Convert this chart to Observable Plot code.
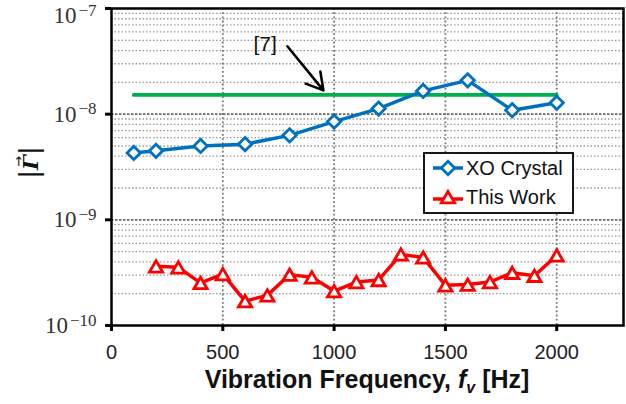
<!DOCTYPE html>
<html><head><meta charset="utf-8">
<script src="https://cdn.jsdelivr.net/npm/d3@7"></script>
<script src="https://cdn.jsdelivr.net/npm/@observablehq/plot@0.6"></script>
<style>
body{margin:0;background:#fff;}
#wrap{width:626px;height:404px;}
</style>
</head><body><div id="wrap"></div>
<script>
// ---- data ----
const xoFreq  = [100, 200, 400, 600, 800, 1000, 1200, 1400, 1600, 1800, 2000];
const xoGamma = [4.3e-9, 4.5e-9, 5.0e-9, 5.2e-9, 6.3e-9, 8.5e-9, 1.13e-8, 1.66e-8, 2.09e-8, 1.09e-8, 1.28e-8];
const twFreq  = [200, 300, 400, 500, 600, 700, 800, 900, 1000, 1100, 1200, 1300, 1400, 1500, 1600, 1700, 1800, 1900, 2000];
const twGamma = [3.63e-10, 3.55e-10, 2.53e-10, 3.07e-10, 1.70e-10, 1.93e-10, 3.03e-10, 2.86e-10, 2.12e-10, 2.58e-10,
                 2.70e-10, 4.71e-10, 4.41e-10, 2.40e-10, 2.44e-10, 2.58e-10, 3.16e-10, 2.96e-10, 4.61e-10];
const refFreq  = [100, 2000];
const refGamma = [1.52e-8, 1.52e-8];
const seriesNames = ["XO Crystal", "This Work"];
const xTicks = [0, 500, 1000, 1500, 2000];
const yExps  = [-10, -9, -8, -7];
const refLabel = "[7]";
const refLabelAt = [690, 4.6e-8];
const refArrowFrom = [790, 4.39e-8];
const refArrowTo   = [952, 1.68e-8];
const xLabelParts = ["Vibration Frequency, ", "f", "v", " [Hz]"];
const yLabelParts = ["|", "\u0393", "|", "\u2192"];

// ---- derived tables ----
const yTicks = yExps.map(e => Math.pow(10, e));
const minor = [];
for (let i = 0; i < yExps.length - 1; i++) for (let k = 2; k <= 9; k++) minor.push(k * yTicks[i]);
const xo  = xoFreq.map((f, i) => ({f, g: xoGamma[i]}));
const tw  = twFreq.map((f, i) => ({f, g: twGamma[i]}));
const ref = refFreq.map((f, i) => ({f, g: refGamma[i]}));

const BLUE = "#0070C0", RED = "#FF0000", GREEN = "#00B050";
const SANS = "'Liberation Sans', Arial, sans-serif";

const chart = Plot.plot({
  width: 626, height: 404,
  marginLeft: 111, marginRight: 3, marginTop: 8, marginBottom: 79,
  style: {fontFamily: SANS, fontSize: "20px", background: "white", overflow: "visible"},
  x: {domain: [0, 2300]},
  y: {type: "log", domain: [1e-10, 1e-7]},
  marks: [
    Plot.ruleY(minor, {stroke: "#9a9a9a", strokeWidth: 1.3, strokeDasharray: "1.5,2"}),
    Plot.ruleY(yTicks.slice(1, -1), {stroke: "#6a6a6a", strokeWidth: 1.6, strokeDasharray: "2.5,1.5"}),
    Plot.ruleX(xTicks.slice(1), {stroke: "#777", strokeWidth: 1.8, strokeDasharray: "1.8,2.4"}),
    Plot.axisX({ticks: xTicks, tickSize: 6, tickPadding: 13, strokeWidth: 3, stroke: "black", label: null,
                fill: "#222", fontSize: 20, tickFormat: d => String(d)}),
    Plot.axisY({ticks: yTicks, tickSize: 6, tickPadding: 9, strokeWidth: 3, stroke: "black", label: null,
                tickFormat: d => "10|" + Math.round(Math.log10(d))}),
    Plot.line(ref, {x: "f", y: "g", stroke: GREEN, strokeWidth: 3.8}),
    Plot.line(xo, {x: "f", y: "g", stroke: BLUE, strokeWidth: 3.5}),
    Plot.dot(xo, {x: "f", y: "g", symbol: "diamond2", r: 6, fill: "white", stroke: BLUE, strokeWidth: 2.8}),
    Plot.line(tw, {x: "f", y: "g", stroke: RED, strokeWidth: 3.5}),
    Plot.dot(tw, {x: "f", y: "g", symbol: "triangle2", r: 6.3, dy: 2, fill: "white", stroke: RED, strokeWidth: 2.8}),
    Plot.arrow([{x1: refArrowFrom[0], y1: refArrowFrom[1], x2: refArrowTo[0], y2: refArrowTo[1]}],
               {x1: "x1", y1: "y1", x2: "x2", y2: "y2", stroke: "black", strokeWidth: 2.6, headLength: 12}),
    Plot.text([{x: refLabelAt[0], y: refLabelAt[1], t: refLabel}], {x: "x", y: "y", text: "t", fontSize: 21, fill: "#111"}),
    Plot.frame({stroke: "black", strokeWidth: 2.5})
  ]
});
document.getElementById("wrap").appendChild(chart);

const svg = d3.select(chart);
const xs = chart.scale("x"), ys = chart.scale("y");

// y tick labels as 10^n with superscript
svg.selectAll('g[aria-label="y-axis tick label"] text').each(function() {
  const t = d3.select(this);
  const parts = t.text().split("|");
  if (parts.length !== 2) return;
  t.text("").style("font-family", "'Liberation Serif', 'DejaVu Serif', serif").style("font-size", "23px").attr("fill", "#333");
  if (parts[1] === "-7") t.attr("transform", (t.attr("transform") || "") + " translate(0,7)");
  t.append("tspan").text("10");
  t.append("tspan").attr("dx", 2).attr("dy", "-0.42em").style("font-size", "17px").text("\u2212" + parts[1].replace("-", ""));
});

// x axis label
const xr = xs.range;
const xl = svg.append("text")
  .attr("x", (xr[0] + xr[1]) / 2).attr("y", 388)
  .attr("text-anchor", "middle")
  .style("font-family", SANS).style("font-weight", "bold").style("font-size", "25px").attr("fill", "#111");
xl.append("tspan").text(xLabelParts[0]);
xl.append("tspan").style("font-style", "italic").text(xLabelParts[1]);
xl.append("tspan").style("font-style", "italic").style("font-size", "16px").attr("dy", 5).text(xLabelParts[2]);
xl.append("tspan").attr("dy", -5).text(xLabelParts[3]);

// y axis label |Γ| with vector arrow
const yr = ys.range;
const yg = svg.append("g").attr("transform", `translate(38,${(yr[0] + yr[1]) / 2 - 4}) rotate(-90)`);
const yl = yg.append("text").attr("text-anchor", "middle")
  .style("font-family", "'DejaVu Serif', serif").style("font-size", "26px").attr("fill", "#111");
yl.append("tspan").text(yLabelParts[0]);
yl.append("tspan").style("font-style", "italic").style("font-weight", "bold").style("font-size", "21px").text(yLabelParts[1]);
yl.append("tspan").text(yLabelParts[2]);
yg.append("text").attr("text-anchor", "middle").attr("x", 1).attr("y", -15)
  .style("font-family", "'DejaVu Sans', sans-serif").style("font-size", "13px").attr("fill", "#111").text(yLabelParts[3]);

// legend
const lg = svg.append("g");
lg.append("rect").attr("x", 424).attr("y", 153).attr("width", 149).attr("height", 60)
  .attr("fill", "white").attr("stroke", "black").attr("stroke-width", 1.8);
const rows = [
  {name: seriesNames[0], color: BLUE, sym: d3.symbolDiamond2, size: Math.PI * 36, cy: 168, dy: 0},
  {name: seriesNames[1], color: RED, sym: d3.symbolTriangle2, size: Math.PI * 6.3 * 6.3, cy: 197, dy: 2}
];
rows.forEach(r => {
  lg.append("line").attr("x1", 433).attr("x2", 463).attr("y1", r.cy + r.dy).attr("y2", r.cy + r.dy)
    .attr("stroke", r.color).attr("stroke-width", 3.5);
  lg.append("path").attr("d", d3.symbol(r.sym, r.size)()).attr("transform", `translate(448,${r.cy + r.dy})`)
    .attr("fill", "white").attr("stroke", r.color).attr("stroke-width", 2.8);
  lg.append("text").attr("x", 466).attr("y", r.cy).attr("dy", "0.35em").attr("text-anchor", "start")
    .style("font-family", SANS).style("font-size", "20px").attr("fill", "#111").text(r.name);
});
</script>
</body></html>
